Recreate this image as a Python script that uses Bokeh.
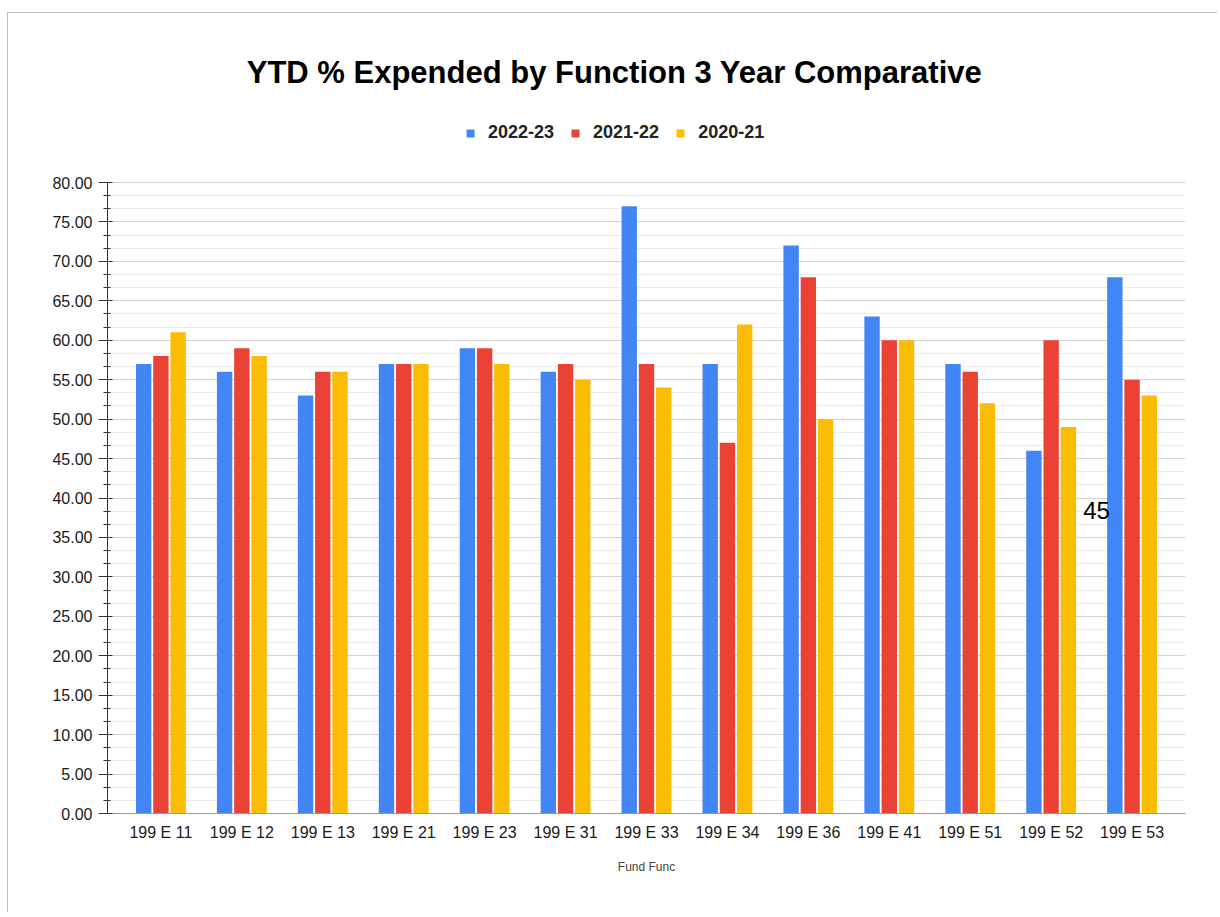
from bokeh.plotting import figure
from bokeh.models import (FactorRange, Range1d, FixedTicker, NumeralTickFormatter,
                          Legend, LegendItem, Label, ColumnDataSource)
from bokeh.transform import dodge
from bokeh.embed import file_html
from bokeh.resources import INLINE

# ---- data ----
categories = ["199 E 11", "199 E 12", "199 E 13", "199 E 21", "199 E 23", "199 E 31", "199 E 33",
              "199 E 34", "199 E 36", "199 E 41", "199 E 51", "199 E 52", "199 E 53"]
series_names = ["2022-23", "2021-22", "2020-21"]
ytd_2022_23 = [57, 56, 53, 57, 59, 56, 77, 57, 72, 63, 57, 46, 68]
ytd_2021_22 = [58, 59, 56, 57, 59, 57, 57, 47, 68, 60, 56, 60, 55]
ytd_2020_21 = [61, 58, 56, 57, 57, 55, 54, 62, 50, 60, 52, 49, 53]
y_min, y_max, y_step = 0, 80, 5
stray_cell_text = "45"

colors = ["#4285F4", "#EA4335", "#FBBC04"]
FONT = "Liberation Sans"

# layout (pixels)
W, H = 1210, 900
ML, MR, MT, MB = 99, 33, 5, 100
frame_h = H - MT - MB
axis_px = 631  # pixel height of the 0..80 axis
y_top = y_max * frame_h / axis_px  # extra room above the axis for title / legend

src = ColumnDataSource(dict(cat=categories, a=ytd_2022_23, b=ytd_2021_22, c=ytd_2020_21))

p = figure(width=W, height=H, output_backend="svg", toolbar_location=None,
           x_range=FactorRange(factors=categories, range_padding=0.16, range_padding_units="absolute"),
           y_range=Range1d(y_min, y_top),
           min_border_left=ML, min_border_right=MR, min_border_top=MT, min_border_bottom=MB)
p.margin = (12, 0, 0, 7)
p.styles = {"border-left": "1px solid #bdbdbd", "border-top": "1px solid #bdbdbd"}
p.outline_line_color = None
p.background_fill_color = "white"
p.border_fill_color = "white"

renderers = []
for key, off, col in zip(["a", "b", "c"], [-0.213, 0.0, 0.213], colors):
    r = p.vbar(x=dodge("cat", off, range=p.x_range), top=key, width=0.19, source=src,
               fill_color=col, line_color=None)
    renderers.append(r)

major = list(range(y_min, y_max + 1, y_step))
minor = []
for t in major[:-1]:
    minor += [t + y_step / 3, t + 2 * y_step / 3]

# y axis
yax = p.yaxis[0]
yax.ticker = FixedTicker(ticks=major, minor_ticks=minor)
yax.bounds = (y_min, y_max)
yax.formatter = NumeralTickFormatter(format="0.00")
yax.axis_line_color = "#333333"
yax.major_tick_line_color = "#333333"
yax.minor_tick_line_color = "#333333"
yax.major_tick_in = 5
yax.major_tick_out = 9
yax.minor_tick_in = 3
yax.minor_tick_out = 4
yax.major_label_standoff = 6
yax.major_label_text_font = FONT
yax.major_label_text_font_size = "16px"
yax.major_label_text_color = "#1a1a1a"

# x axis
xax = p.xaxis[0]
xax.axis_line_color = "#999999"
xax.major_tick_line_color = None
xax.minor_tick_line_color = None
xax.major_tick_out = 0
xax.major_tick_in = 0
xax.major_label_standoff = 10
xax.major_label_text_font = FONT
xax.major_label_text_font_size = "16px"
xax.major_label_text_color = "#1a1a1a"
xax.axis_label = "Fund Func"
xax.axis_label_text_font = FONT
xax.axis_label_text_font_size = "12px"
xax.axis_label_text_font_style = "normal"
xax.axis_label_text_color = "#444444"
xax.axis_label_standoff = 16

p.xgrid.grid_line_color = None
p.ygrid.grid_line_color = "#d4d4d4"
p.ygrid.minor_grid_line_color = "#ececec"
p.ygrid.bounds = (y_min, y_max)

# title
p.add_layout(Label(x=507, y=741, x_units="screen", y_units="screen",
                   text="YTD % Expended by Function 3 Year Comparative",
                   text_font=FONT, text_font_size="31px", text_font_style="bold",
                   text_color="#000000", text_align="center", text_baseline="middle"))

# legend
legend = Legend(items=[LegendItem(label=n, renderers=[r]) for n, r in zip(series_names, renderers)],
                orientation="horizontal", location=(358, 670), padding=0, margin=0,
                glyph_width=10, glyph_height=10, label_standoff=13, spacing=16,
                label_text_font=FONT, label_text_font_size="18px", label_text_font_style="bold",
                label_text_color="#222222", border_line_color=None, background_fill_alpha=0,
                label_height=20)
p.add_layout(legend)

# stray cell value overlapping the chart
p.add_layout(Label(x=989, y=303, x_units="screen", y_units="screen", text=stray_cell_text,
                   text_font=FONT, text_font_size="24px", text_color="#000000",
                   text_align="center", text_baseline="middle"))

open("out.html", "w").write(file_html(p, INLINE))
